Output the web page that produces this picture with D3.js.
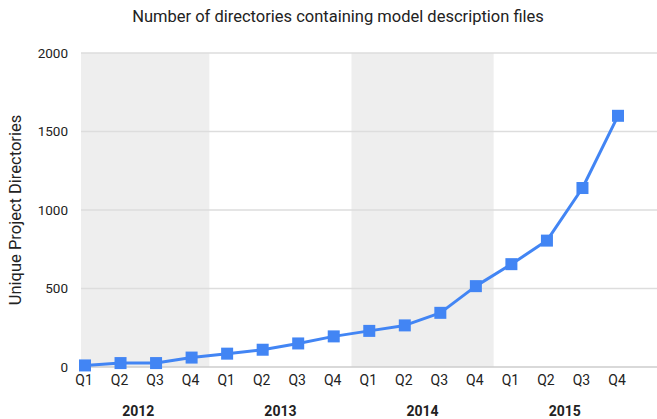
<!DOCTYPE html>
<html>
<head>
<meta charset="utf-8">
<script src="https://cdn.jsdelivr.net/npm/d3@7"></script>
<style>
  body { margin: 0; background: #fff; }
  text { font-family: Roboto, "Noto Sans", sans-serif; fill: #222; }
</style>
</head>
<body>
<svg width="657" height="419"></svg>
<script>
// Data.
var years = ['2012', '2013', '2014', '2015'];
var quarters = ['Q1', 'Q2', 'Q3', 'Q4'];
var counts = [10, 25, 25, 60, 85, 110, 150, 195, 230, 265, 345, 515, 655, 805, 1140, 1600];
var yTicks = [0, 500, 1000, 1500, 2000];
var shadedYears = ['2012', '2014'];

var svg = d3.select('svg');
var plotLeft = 81, plotRight = 657, plotTop = 53, plotBottom = 367;

var points = counts.map(function(v, i) {
  return { i: i, year: years[Math.floor(i / 4)], q: quarters[i % 4], value: v };
});

var x = d3.scaleLinear().domain([0, counts.length - 1]).range([85, 618]);
var y = d3.scaleLinear().domain([0, 2000]).range([plotBottom, plotTop]);

// Shaded year bands.
svg.append('g')
  .selectAll('rect')
  .data(shadedYears)
  .enter().append('rect')
  .attr('x', function(d) {
    var i0 = years.indexOf(d) * 4;
    return Math.max(plotLeft, x(i0 - 0.5));
  })
  .attr('width', function(d) {
    var i0 = years.indexOf(d) * 4;
    return x(i0 + 3.5) - Math.max(plotLeft, x(i0 - 0.5));
  })
  .attr('y', plotTop)
  .attr('height', plotBottom - plotTop)
  .attr('fill', '#eeeeee');

// Gridlines and y tick labels.
var grid = svg.append('g');
grid.selectAll('line')
  .data(yTicks)
  .enter().append('line')
  .attr('x1', plotLeft)
  .attr('x2', plotRight)
  .attr('y1', function(d) { return y(d); })
  .attr('y2', function(d) { return y(d); })
  .attr('stroke', function(d) { return d === 0 ? '#cccccc' : '#dddddd'; })
  .attr('stroke-width', 1.5);

grid.selectAll('text')
  .data(yTicks)
  .enter().append('text')
  .attr('x', 68)
  .attr('y', function(d) { return y(d); })
  .attr('dy', '0.35em')
  .attr('text-anchor', 'end')
  .style('font-size', '13.5px')
  .text(function(d) { return d; });

// Quarter labels and year labels.
svg.append('g')
  .selectAll('text')
  .data(points)
  .enter().append('text')
  .attr('x', function(d) { return x(d.i) - 1; })
  .attr('y', 385)
  .attr('text-anchor', 'middle')
  .style('font-size', '14px')
  .text(function(d) { return d.q; });

svg.append('g')
  .selectAll('text')
  .data(years)
  .enter().append('text')
  .attr('x', function(d, k) { return x(k * 4 + 1.5); })
  .attr('y', 416)
  .attr('text-anchor', 'middle')
  .style('font-size', '14px')
  .style('font-weight', 'bold')
  .text(function(d) { return d; });

// Line and square markers.
var line = d3.line()
  .x(function(d) { return x(d.i); })
  .y(function(d) { return y(d.value); });

svg.append('path')
  .datum(points)
  .attr('d', line)
  .attr('fill', 'none')
  .attr('stroke', '#4285f4')
  .attr('stroke-width', 3)
  .attr('stroke-linejoin', 'round');

var s = 12;
svg.append('g')
  .selectAll('rect')
  .data(points)
  .enter().append('rect')
  .attr('x', function(d) { return x(d.i) - s / 2; })
  .attr('y', function(d) { return y(d.value) - s / 2; })
  .attr('width', s)
  .attr('height', s)
  .attr('fill', '#4285f4');

// Title and axis title.
svg.append('text')
  .attr('x', 338)
  .attr('y', 22)
  .attr('text-anchor', 'middle')
  .style('font-size', '16.5px')
  .text('Number of directories containing model description files');

svg.append('text')
  .attr('transform', 'translate(21,' + ((plotTop + plotBottom) / 2) + ') rotate(-90)')
  .attr('text-anchor', 'middle')
  .style('font-size', '16.5px')
  .text('Unique Project Directories');
</script>
</body>
</html>
